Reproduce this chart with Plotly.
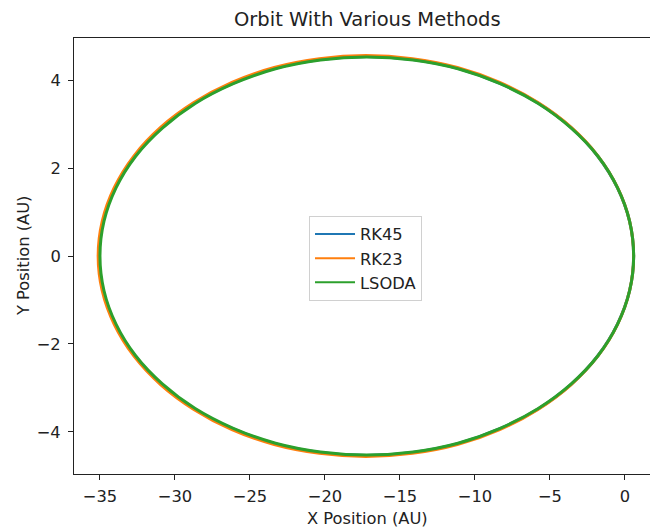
import plotly.graph_objects as go

# Orbit points (AU), traced counter-clockwise from perihelion
rk45_x = [0.58, 0.31, -0.50, -1.81, -3.59, -5.79, -8.33, -11.15, -14.15, -17.24,
          -20.33, -23.33, -26.15, -28.70, -30.89, -32.67, -33.99, -34.79, -35.06,
          -34.79, -33.99, -32.67, -30.89, -28.70, -26.15, -23.33, -20.33, -17.24,
          -14.15, -11.15, -8.33, -5.79, -3.59, -1.81, -0.50, 0.31, 0.58]
rk45_y = [0.00, 0.79, 1.55, 2.27, 2.92, 3.48, 3.93, 4.27, 4.47, 4.54,
          4.47, 4.27, 3.93, 3.48, 2.92, 2.27, 1.55, 0.79, 0.00,
          -0.79, -1.55, -2.27, -2.92, -3.48, -3.93, -4.27, -4.47, -4.54,
          -4.47, -4.27, -3.93, -3.48, -2.92, -2.27, -1.55, -0.79, 0.00]

rk23_x = [0.58, 0.31, -0.50, -1.81, -3.60, -5.80, -8.35, -11.17, -14.17, -17.27,
          -20.37, -23.38, -26.20, -28.74, -30.94, -32.73, -34.04, -34.85, -35.12,
          -34.85, -34.04, -32.73, -30.94, -28.74, -26.20, -23.38, -20.37, -17.27,
          -14.17, -11.17, -8.35, -5.80, -3.60, -1.81, -0.50, 0.31, 0.58]
rk23_y = [0.00, 0.79, 1.56, 2.28, 2.93, 3.49, 3.95, 4.29, 4.49, 4.56,
          4.49, 4.29, 3.95, 3.49, 2.93, 2.28, 1.56, 0.79, 0.00,
          -0.79, -1.56, -2.28, -2.93, -3.49, -3.95, -4.29, -4.49, -4.56,
          -4.49, -4.29, -3.95, -3.49, -2.93, -2.28, -1.56, -0.79, 0.00]

lsoda_x = [0.58, 0.31, -0.49, -1.80, -3.58, -5.78, -8.32, -11.13, -14.12, -17.21,
           -20.30, -23.29, -26.11, -28.65, -30.84, -32.62, -33.93, -34.73, -35.00,
           -34.73, -33.93, -32.62, -30.84, -28.65, -26.11, -23.29, -20.30, -17.21,
           -14.12, -11.13, -8.32, -5.78, -3.58, -1.80, -0.49, 0.31, 0.58]
lsoda_y = [0.00, 0.79, 1.55, 2.27, 2.91, 3.47, 3.92, 4.26, 4.46, 4.53,
           4.46, 4.26, 3.92, 3.47, 2.91, 2.27, 1.55, 0.79, 0.00,
           -0.79, -1.55, -2.27, -2.91, -3.47, -3.92, -4.26, -4.46, -4.53,
           -4.46, -4.26, -3.92, -3.47, -2.91, -2.27, -1.55, -0.79, 0.00]

series = [("RK45", rk45_x, rk45_y, "#1f77b4"),
          ("RK23", rk23_x, rk23_y, "#ff7f0e"),
          ("LSODA", lsoda_x, lsoda_y, "#2ca02c")]

x_ticks = [-35, -30, -25, -20, -15, -10, -5, 0]
y_ticks = [-4, -2, 0, 2, 4]

fig = go.Figure()
for name, xs, ys, col in series:
    fig.add_trace(go.Scatter(x=xs, y=ys, mode="lines", name=name, legendgroup=name,
                             showlegend=False,
                             line=dict(color=col, width=3, shape="spline", smoothing=1.0)))
for name, xs, ys, col in series:
    # legend entry with the thinner legend line seen in the reference
    fig.add_trace(go.Scatter(x=[None], y=[None], mode="lines", name=name, legendgroup=name,
                             showlegend=True, line=dict(color=col, width=2)))

font = "DejaVu Sans, sans-serif"
fs = 16.3
fig.update_layout(
    width=650, height=529,
    margin=dict(l=74, r=0, t=38, b=55),
    paper_bgcolor="white", plot_bgcolor="white",
    font=dict(family=font, size=fs, color="#222222"),
    showlegend=True,
    legend=dict(x=0.408, y=0.592, xanchor="left", yanchor="top",
                bgcolor="rgba(255,255,255,0.8)", bordercolor="#d0d0d0", borderwidth=1,
                itemwidth=40, tracegroupgap=0,
                font=dict(family=font, size=fs, color="#222222")),
    xaxis=dict(range=[-36.73, 1.67], tickmode="array", tickvals=x_ticks,
               showgrid=False, zeroline=False, showline=True, linecolor="#222222",
               linewidth=1, mirror=True, ticks="outside", ticklen=5, tickcolor="#222222",
               tickfont=dict(size=fs), ticklabelstandoff=2),
    yaxis=dict(range=[-4.96, 4.96], tickmode="array", tickvals=y_ticks,
               showgrid=False, zeroline=False, showline=True, linecolor="#222222",
               linewidth=1, ticks="outside", ticklen=5, tickcolor="#222222",
               tickfont=dict(size=fs), ticklabelstandoff=4),
    annotations=[
        dict(text="Orbit With Various Methods", xref="paper", yref="paper",
             x=0.509, y=1, yshift=19, xanchor="center", yanchor="middle",
             showarrow=False, font=dict(size=19.5, family=font, color="#222222")),
        dict(text="X Position (AU)", xref="paper", yref="paper",
             x=0.509, y=0, yshift=-44, xanchor="center", yanchor="middle",
             showarrow=False, font=dict(size=fs, family=font, color="#222222")),
        dict(text="Y Position (AU)", xref="paper", yref="paper",
             x=0, xshift=-51, y=0.5, xanchor="center", yanchor="middle",
             textangle=-90, showarrow=False, font=dict(size=fs, family=font, color="#222222")),
    ],
)

fig.write_html("out.html", config={"displayModeBar": False},
               post_script="document.body.style.margin='0';")
